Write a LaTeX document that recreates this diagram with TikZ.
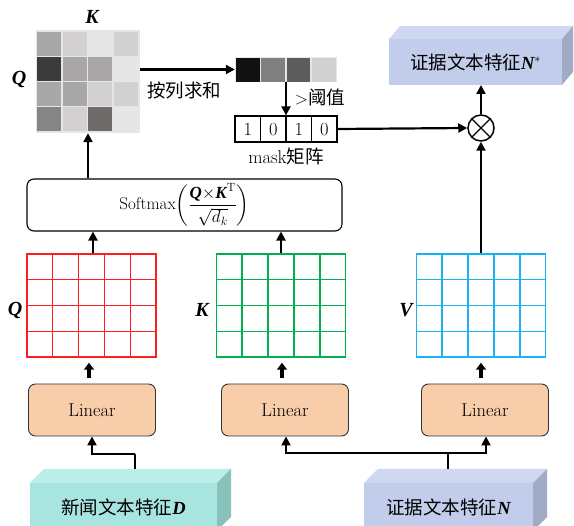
\documentclass[tikz,border=0pt]{standalone}
\usepackage{amsmath}
\usepackage{fontspec}
\newfontfamily\cjk{Noto Sans CJK SC}
\newfontfamily\tms{Liberation Serif}
\newcommand{\bv}[1]{\mbox{\tms\bfseries\itshape #1}}
\usetikzlibrary{arrows.meta,calc}
\definecolor{hmbg}{HTML}{E6E6E6}
\definecolor{gA}{HTML}{3B3B3B}
\definecolor{gB}{HTML}{A9A7A7}
\definecolor{gC}{HTML}{D2D0D1}
\definecolor{gD}{HTML}{858585}
\definecolor{gE}{HTML}{6F6B6B}
\definecolor{qred}{HTML}{FF1E1E}
\definecolor{kgreen}{HTML}{00B050}
\definecolor{vblue}{HTML}{18B4F0}
\definecolor{peach}{HTML}{F8CDAA}
\definecolor{dfront}{HTML}{A8E5E0}
\definecolor{dtop}{HTML}{BBEDE9}
\definecolor{dside}{HTML}{89C1BB}
\definecolor{nfront}{HTML}{C1CDEA}
\definecolor{ntop}{HTML}{CFD8F0}
\definecolor{nside}{HTML}{A1AAC6}
\newcommand{\gridlines}[2]{%
  \foreach \i in {1,...,4}
    \draw[#2,line width=1.5pt] ($(#1.north west)!\i/5!(#1.north east)$) -- ($(#1.south west)!\i/5!(#1.south east)$);
  \foreach \j in {1,...,3}
    \draw[#2,line width=1.5pt] ($(#1.north west)!\j/4!(#1.south west)$) -- ($(#1.north east)!\j/4!(#1.south east)$);
}
\newcommand{\boxthreed}[5]{% name, dx, dy, topcolor, sidecolor
  \fill[#4] (#1.north west) -- ++(#2,-#3) -- ($(#1.north east)+(#2,-#3)$) -- (#1.north east) -- cycle;
  \fill[#5] (#1.north east) -- ++(#2,-#3) -- ($(#1.south east)+(#2,-#3)$) -- (#1.south east) -- cycle;
}
\begin{document}
\begin{tikzpicture}[x=1pt,y=-1pt,font=\fontsize{18.5}{21}\selectfont,
  arr/.style={line width=2.2pt,-{Triangle[length=9pt,width=9pt]}},
  sarr/.style={line width=3.2pt,-{Triangle[length=7pt,width=10pt]}},
  plain/.style={line width=2.2pt},
  gridbox/.style={minimum width=129pt,minimum height=103pt,inner sep=0pt,line width=1.5pt},
  linbox/.style={draw=black!80,fill=peach,rounded corners=7pt,minimum width=127pt,minimum height=52pt,inner sep=0pt,line width=0.9pt},
  face/.style={inner sep=0pt,outer sep=0pt},
  lbl/.style={inner sep=0pt},
  big/.style={inner sep=0pt,font=\fontsize{20}{22}\selectfont}]
\useasboundingbox (0,0) rectangle (574,526);

% heatmap
\node[fill=hmbg,minimum width=104pt,minimum height=103pt,inner sep=0pt] (hm) at (88,81.5) {};
\foreach \c/\r/\col in {0/0/gB,1/0/gC,3/0/gC,
                        0/1/gA,1/1/gB,2/1/gB,
                        0/2/gB,1/2/gB,2/2/gC,3/2/gC,
                        0/3/gD,1/3/gC,2/3/gE}
  \fill[\col] ({37+25.6*\c},{32+25*\r}) rectangle +(24,24);
\node[big] (lK) at (92,17) {\bv{K}};
\node[big] (lQ) at (19,80) {\bv{Q}};

% column-sum bar
\node[fill=hmbg,minimum width=102pt,minimum height=25pt,inner sep=0pt] (bar) at (286,69.5) {};
\foreach \c/\col in {0/black!93,1/black!50,2/black!64,3/black!18}
  \fill[\col] ({236+25.4*\c},58) rectangle +(23.5,24);
\draw[arr] (hm.east |- bar.west) -- (bar.west);
\node[lbl] (sum) at (184,90) {\cjk 按列求和};

% mask
\node[draw,fill=white,line width=1.2pt,minimum width=102pt,minimum height=26pt,inner sep=0pt] (mask) at (286,129) {};
\foreach \i in {1,2,3}
  \draw[line width=1.2pt] ($(mask.north west)!\i/4!(mask.north east)$) -- ($(mask.south west)!\i/4!(mask.south east)$);
\foreach \i/\d in {0/1,1/0,2/1,3/0}
  \node[lbl] at ({247.75+25.5*\i},129.5) {\d};
\node[lbl] (mlab) at (286,156) {mask{\cjk 矩阵}};
\draw[arr] (bar.south) -- (mask.north);
\node[lbl] (thr) at (320,97) {${>}${\cjk 阈值}};

% otimes
\node[draw,circle,line width=1.5pt,minimum size=26pt,inner sep=0pt,fill=white] (ot) at (481,128) {};
\draw[line width=1.3pt] (ot.45) -- (ot.225) (ot.135) -- (ot.315);
\draw[arr] (mask.east) -- (ot.west);

% N* box
\node[face,fill=nfront,minimum width=173pt,minimum height=46pt] (Ns) at (475.5,62) {};
\boxthreed{Ns}{11}{13}{ntop}{nside}
\node[lbl] (Nstxt) at (Ns.center) {{\cjk 证据文本特征}\bv{N}$^{*}$};
\draw[arr] (ot.north) -- (ot.north |- Ns.south);

% softmax
\node[draw,fill=white,rounded corners=7pt,line width=1.1pt,minimum width=315pt,minimum height=52pt,inner sep=0pt,font=\fontsize{17}{19}\selectfont] (sm) at (184.5,205)
  {Softmax$\left(\dfrac{\bv{Q}{\times}\bv{K}^{\mathrm{T}}}{\sqrt{d_k}}\right)$};
\draw[arr] (sm.north -| hm.south) -- (hm.south);

% grids
\node[gridbox,draw=qred] (gQ) at (91.5,305.5) {};
\gridlines{gQ}{qred}
\node[gridbox,draw=kgreen] (gK) at (281,305.5) {};
\gridlines{gK}{kgreen}
\node[gridbox,draw=vblue] (gV) at (481,305.5) {};
\gridlines{gV}{vblue}
\node[big] (lQ2) at (15,311) {\bv{Q}};
\node[big] (lK2) at (202,310) {\bv{K}};
\node[big] (lV2) at (406,310) {\bv{V}};
\coordinate (qa) at ($(gQ.north)+(1.5,0)$);
\draw[arr] (qa) -- (qa |- sm.south);
\draw[arr] (gK.north) -- (gK.north |- sm.south);
\draw[arr] (gV.north) -- (ot.south);

% linear boxes
\node[linbox] (lin1) at (92,410) {Linear};
\node[linbox] (lin2) at (285,410) {Linear};
\node[linbox] (lin3) at (485,410) {Linear};
\draw[sarr,shorten <=6pt,shorten >=5pt] ($(lin1.north)+(-3,0)$) -- ($(gQ.south)+(-2.5,0)$);
\draw[sarr,shorten <=6pt,shorten >=5pt] ($(lin2.north)+(-3,0)$) -- ($(gK.south)+(1,0)$);
\draw[sarr,shorten <=6pt,shorten >=5pt] ($(lin3.north)+(-4,0)$) -- ($(gV.south)+(0,0)$);

% input boxes
\node[face,fill=dfront,minimum width=187pt,minimum height=48pt] (D) at (123.5,507) {};
\boxthreed{D}{14}{14}{dtop}{dside}
\node[lbl] (Dtxt) at (D.center) {{\cjk 新闻文本特征}\bv{D}};
\node[face,fill=nfront,minimum width=169pt,minimum height=48pt] (N) at (448.5,507) {};
\boxthreed{N}{14}{14}{ntop}{nside}
\node[lbl] (Ntxt) at (N.center) {{\cjk 证据文本特征}\bv{N}};

% connectors from inputs
\coordinate (Dtop) at (135,469);
\coordinate (Dj) at (135,454);
\draw[plain] (Dtop) -- (Dj);
\draw[arr] (Dj) -| (lin1.south);
\coordinate (Ntop) at (448,469);
\coordinate (Nj) at (448,453);
\draw[plain] (Ntop) -- (Nj);
\draw[arr] (Nj) -| ($(lin2.south)+(1,0)$);
\draw[arr] (Nj) -| ($(lin3.south)+(1,0)$);
\end{tikzpicture}
\end{document}
